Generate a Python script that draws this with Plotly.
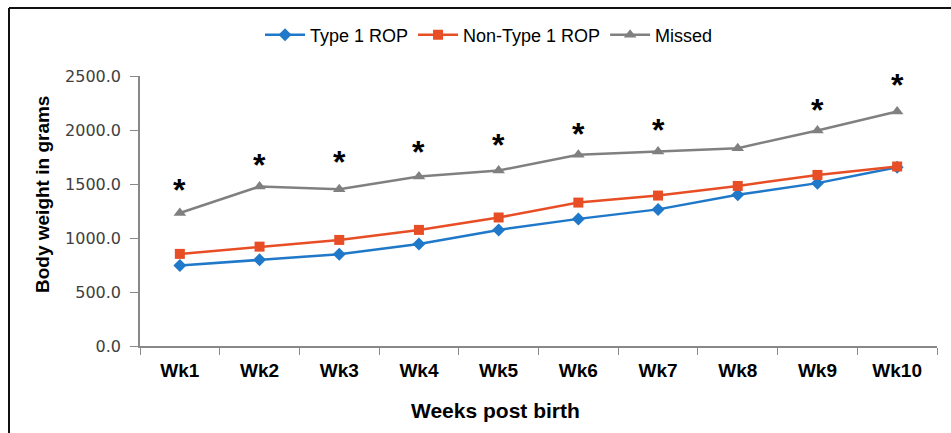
import plotly.graph_objects as go

weeks = ["Wk1", "Wk2", "Wk3", "Wk4", "Wk5", "Wk6", "Wk7", "Wk8", "Wk9", "Wk10"]
type1_rop = [745, 798, 850, 945, 1075, 1177, 1265, 1400, 1508, 1656]
non_type1_rop = [853, 920, 982, 1075, 1190, 1328, 1393, 1482, 1584, 1662]
missed = [1232, 1477, 1452, 1570, 1625, 1770, 1800, 1832, 1995, 2172]
# height of significance asterisks (None = no asterisk)
asterisk_y = [1469, 1706, 1729, 1821, 1889, 1991, 2031, None, 2216, 2447]

fig = go.Figure()
fig.add_trace(go.Scatter(
    x=weeks, y=type1_rop, name="Type 1 ROP", mode="lines+markers",
    line=dict(color="#1F78C8", width=2.5),
    marker=dict(symbol="diamond", size=10, color="#1F78C8")))
fig.add_trace(go.Scatter(
    x=weeks, y=non_type1_rop, name="Non-Type 1 ROP", mode="lines+markers",
    line=dict(color="#E84E25", width=2.5),
    marker=dict(symbol="square", size=10, color="#E84E25")))
fig.add_trace(go.Scatter(
    x=weeks, y=missed, name="Missed", mode="lines+markers",
    line=dict(color="#808080", width=2.5),
    marker=dict(symbol="triangle-up", size=11, color="#808080")))

annotations = []
for w, a in zip(weeks, asterisk_y):
    if a is None:
        continue
    annotations.append(dict(
        x=w, y=a, xref="x", yref="y", text="<b>*</b>", showarrow=False,
        font=dict(family="Liberation Sans", size=32, color="#000000"),
        yshift=-3))

annotations.append(dict(
    x=(495 - 140) / 797, y=-(410 - 346) / 270, xref="paper", yref="paper",
    text="<b>Weeks post birth</b>", showarrow=False,
    font=dict(family="Liberation Sans", size=21, color="#000000"),
    xanchor="center", yanchor="middle"))
annotations.append(dict(
    x=-(140 - 42) / 797, y=(346 - 195) / 270, xref="paper", yref="paper",
    text="<b>Body weight in grams</b>", showarrow=False, textangle=-90,
    font=dict(family="Liberation Sans", size=19, color="#000000"),
    xanchor="center", yanchor="middle"))

fig.update_layout(
    width=951, height=433,
    margin=dict(l=140, r=14, t=76, b=87),
    paper_bgcolor="white", plot_bgcolor="white",
    showlegend=True,
    legend=dict(orientation="h", x=(489 - 140) / 797, y=1 + (76 - 35) / 270,
                xanchor="center", yanchor="middle",
                font=dict(family="Liberation Sans", size=18, color="#000000"),
                itemwidth=40, tracegroupgap=0),
    annotations=annotations,
    shapes=[
        dict(type="line", xref="paper", yref="paper",
             x0=-(140 - 9) / 797, x1=1 + 14 / 797, y0=1 + (76 - 8) / 270, y1=1 + (76 - 8) / 270,
             line=dict(color="#111111", width=2)),
        dict(type="line", xref="paper", yref="paper",
             x0=-(140 - 9) / 797, x1=-(140 - 9) / 797, y0=1 + (76 - 8) / 270, y1=-87 / 270,
             line=dict(color="#111111", width=2)),
    ],
)
fig.update_xaxes(
    type="category", range=[-0.5, 9.5], tickson="boundaries",
    showline=True, linecolor="#888888", linewidth=1.5,
    ticks="outside", ticklen=7, tickcolor="#888888",
    showgrid=False, zeroline=False, ticklabelstandoff=6,
    tickfont=dict(family="Liberation Sans Narrow, Liberation Sans", size=19, color="#000000"),
    tickprefix="<b>", ticksuffix="</b>",
)
fig.update_yaxes(
    range=[0, 2500], tickvals=[0, 500, 1000, 1500, 2000, 2500], tickformat=".1f",
    showline=True, linecolor="#888888", linewidth=1.5,
    ticks="outside", ticklen=8, tickcolor="#888888",
    showgrid=False, zeroline=False, ticklabelstandoff=6,
    tickfont=dict(family="DejaVu Sans", size=16, color="#404040"),
)
fig.write_html("out.html", config={"displayModeBar": False},
               post_script="document.body.style.margin='0';document.body.style.overflow='hidden';")
